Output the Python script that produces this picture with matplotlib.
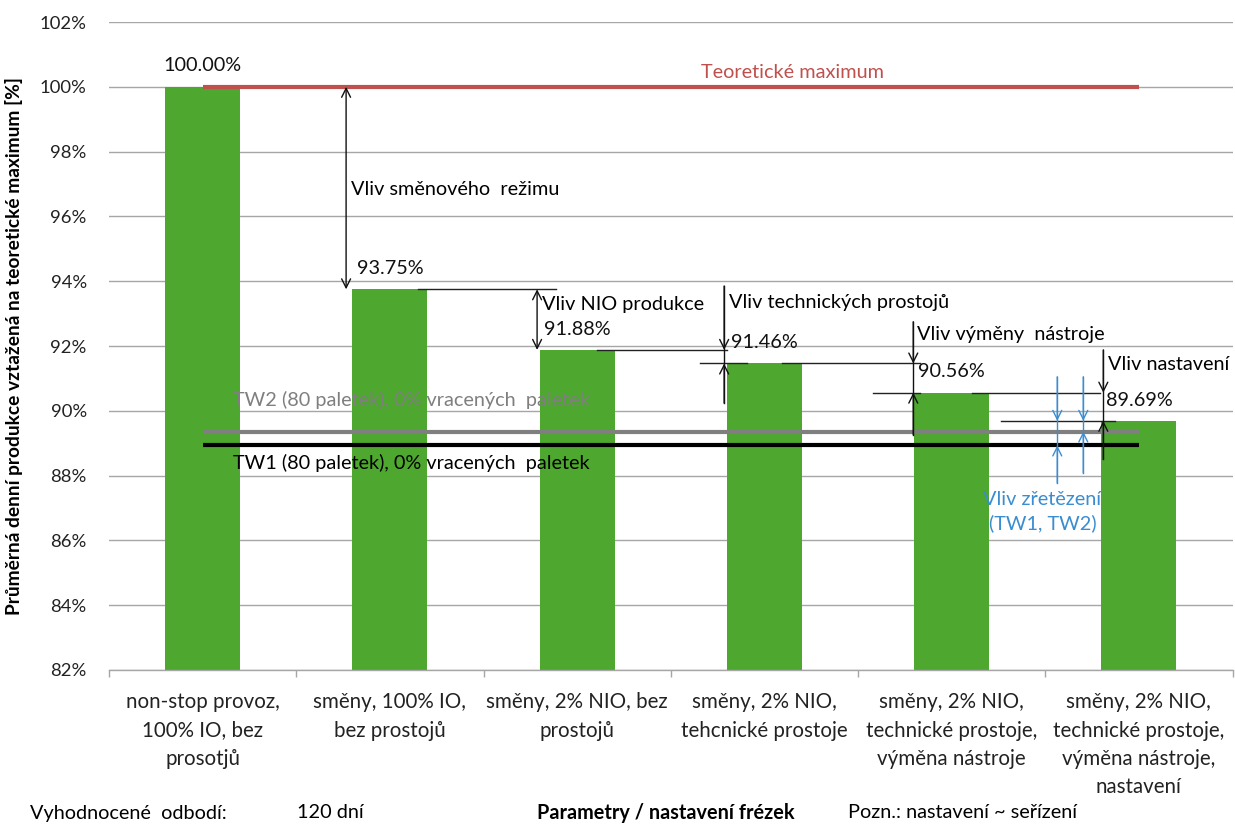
import matplotlib
matplotlib.use("Agg")
import matplotlib.pyplot as plt
from matplotlib.ticker import FuncFormatter, FixedLocator

plt.rcParams['font.family'] = ['Lato', 'DejaVu Sans']

# --- data -------------------------------------------------------------
categories = [
    "non-stop provoz,\n100% IO, bez\nprosotjů",
    "směny, 100% IO,\nbez prostojů",
    "směny, 2% NIO, bez\nprostojů",
    "směny, 2% NIO,\ntehcnické prostoje",
    "směny, 2% NIO,\ntechnické prostoje,\nvýměna nástroje",
    "směny, 2% NIO,\ntechnické prostoje,\nvýměna nástroje,\nnastavení",
]
production = [100.00, 93.75, 91.88, 91.46, 90.56, 89.69]
theoretical_max = 100.0
tw1_level = 88.93
tw2_level = 89.36
yticks = list(range(82, 103, 2))

impact_labels = [
    "Vliv směnového  režimu",
    "Vliv NIO produkce",
    "Vliv technických prostojů",
    "Vliv výměny  nástroje",
    "Vliv nastavení",
]

GREEN = "#4EA72E"
RED = "#C0504D"
GRID = "#A6A6A6"
TW2_GRAY = "#7F7F7F"
BLUE = "#3A8DD0"
FS = 14.3      # annotation text
FS_TICK = 14.8 # category labels
FS_Y = 13.3    # y tick labels

fig = plt.figure(figsize=(12.35, 8.25), dpi=100)
ax = fig.add_axes([0.0883, 0.1879, 0.9097, 0.7854])

x = list(range(len(categories)))
ax.bar(x, production, width=0.4, color=GREEN, zorder=2)

ax.set_xlim(-0.5, len(categories) - 0.5)
ax.set_ylim(82, 102)
ax.yaxis.set_major_locator(FixedLocator(yticks))
ax.yaxis.set_major_formatter(FuncFormatter(lambda v, p: f"{v:.0f}%"))
ax.grid(axis='y', color=GRID, lw=1, zorder=0)
ax.set_axisbelow(True)

for s in ['top', 'right', 'left']:
    ax.spines[s].set_visible(False)
ax.spines['bottom'].set_color(GRID)
ax.spines['bottom'].set_linewidth(1)

ax.set_xticks(x)
ax.set_xticklabels(categories, fontsize=FS_TICK, linespacing=1.52)
ax.set_xticks([i - 0.5 for i in range(len(categories) + 1)], minor=True)
ax.tick_params(axis='x', which='major', length=0, pad=16, colors='#222222')
ax.tick_params(axis='x', which='minor', length=5, color=GRID, width=1)
ax.tick_params(axis='y', length=0, pad=16, labelsize=FS_Y, colors='#222222')

ax.set_ylabel("Průměrná denní produkce vztažená na teoretické maximum [%]",
              fontsize=13.8, fontweight='bold', labelpad=12)

# value labels above the bars
for xi, v in zip(x, production):
    ax.annotate(f"{v:.2f}%", xy=(xi, v), xytext=(0, 15), textcoords='offset points',
                ha='center', va='center', fontsize=FS, color='#111111', zorder=5)

# reference lines
ax.plot([0, 5], [theoretical_max, theoretical_max], color=RED, lw=3, zorder=3,
        solid_capstyle='butt')
ax.text(3.15, 100.43, "Teoretické maximum", color=RED, fontsize=FS, ha='center', va='center')
ax.plot([0, 5], [tw2_level, tw2_level], color=TW2_GRAY, lw=3, zorder=3, solid_capstyle='butt')
ax.plot([0, 5], [tw1_level, tw1_level], color='black', lw=3, zorder=3, solid_capstyle='butt')
ax.text(0.163, 90.34, "TW2 (80 paletek), 0% vracených  paletek", color=TW2_GRAY,
        fontsize=FS, ha='left', va='center', zorder=4)
ax.text(0.163, 88.39, "TW1 (80 paletek), 0% vracených  paletek", color='black',
        fontsize=FS, ha='left', va='center', zorder=4)

# extension lines at bar levels
ext = [
    (production[1], 1.151, 1.888),
    (production[2], 2.107, 2.801),
    (production[3], 2.657, 2.907),
    (production[3], 3.095, 3.832),
    (production[4], 3.581, 3.832),
    (production[4], 4.110, 4.794),
    (production[5], 4.262, 4.874),
]
for yv, x0, x1 in ext:
    ax.plot([x0, x1], [yv, yv], color='#222222', lw=1, zorder=4)

AP = dict(color='#111111', lw=1, shrinkA=0, shrinkB=0, mutation_scale=16)


def arrow(xp, y_from, y_to, style='->', color='#111111'):
    props = dict(AP)
    props['color'] = color
    props['arrowstyle'] = style
    ax.annotate('', xy=(xp, y_to), xytext=(xp, y_from), arrowprops=props, zorder=6)


def split_dim(xp, y_top, y_hi, y_lo, y_bot, color='#111111'):
    ax.plot([xp, xp], [y_top, y_bot], color=color, lw=1, zorder=5)
    arrow(xp, y_top, y_hi, color=color)
    arrow(xp, y_bot, y_lo, color=color)


# shift regime impact
arrow(0.766, production[1], theoretical_max, style='<->')
ax.text(0.79, 96.82, impact_labels[0], fontsize=FS, ha='left', va='center')

# NIO impact
arrow(1.786, production[2], production[1], style='<->')
ax.text(1.813, 93.27, impact_labels[1], fontsize=FS, ha='left', va='center')

# technical downtime impact
split_dim(2.785, 93.85, production[2], production[3], 90.24)
ax.text(2.812, 93.33, impact_labels[2], fontsize=FS, ha='left', va='center')

# tool change impact
split_dim(3.795, 92.75, production[3], production[4], 89.26)
ax.text(3.816, 92.34, impact_labels[3], fontsize=FS, ha='left', va='center')

# setup impact
split_dim(4.810, 91.88, production[4], production[5], 88.50)
ax.text(4.837, 91.42, impact_labels[4], fontsize=FS, ha='left', va='center')

# chaining impact (TW1, TW2)
split_dim(4.564, 91.05, production[5], tw1_level, 87.77, color=BLUE)
split_dim(4.703, 91.05, production[5], tw2_level, 88.08, color=BLUE)
ax.text(4.485, 86.90, "Vliv zřetězení\n(TW1, TW2)", color=BLUE, fontsize=FS,
        ha='center', va='center', linespacing=1.4)

# footer notes
fy = 1 - 813 / 825
fig.text(30 / 1235, fy, "Vyhodnocené  odbodí:", fontsize=FS, va='center')
fig.text(297 / 1235, fy, "120 dní", fontsize=FS, va='center')
fig.text(537 / 1235, fy, "Parametry / nastavení frézek", fontsize=FS,
         fontweight='bold', va='center')
fig.text(848 / 1235, fy, "Pozn.: nastavení ~ seřízení", fontsize=FS, va='center')

fig.savefig("out.png", dpi=100)
